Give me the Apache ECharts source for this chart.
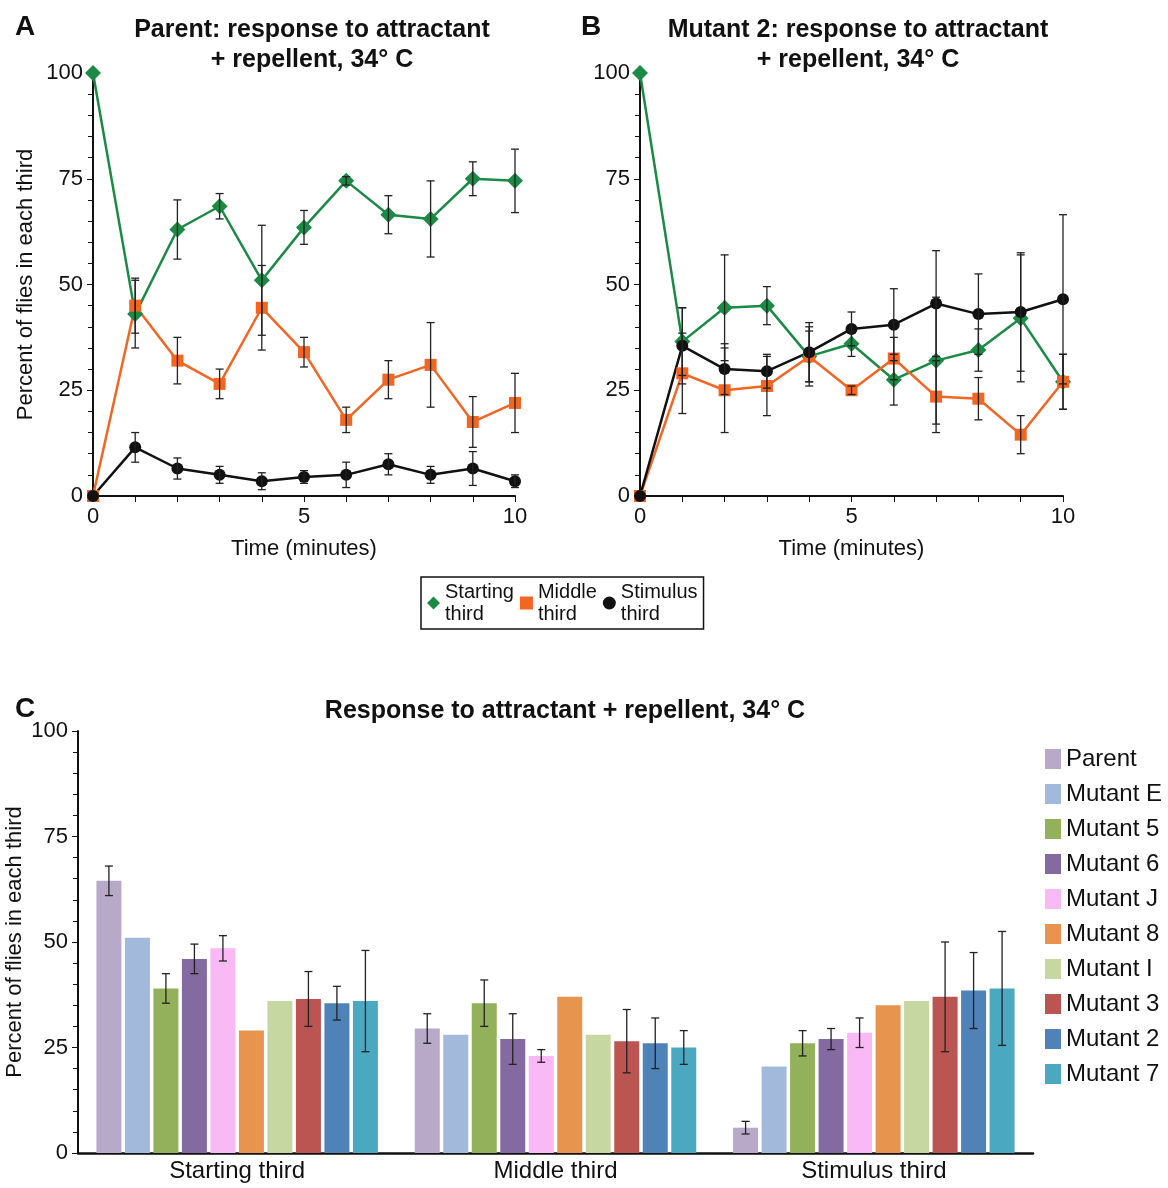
<!DOCTYPE html>
<html><head><meta charset="utf-8">
<script src="https://cdn.jsdelivr.net/npm/echarts@6/dist/echarts.min.js"></script>
<style>html,body{margin:0;background:#fff}#c{width:1168px;height:1188px}</style>
</head><body><div id="c"></div>
<script>
var F = "'Liberation Sans Narrow','Liberation Sans',Arial,sans-serif";
var minutes = [0,1,2,3,4,5,6,7,8,9,10];
// Panel A: parent
var aStart = [100,43,63,68.5,51,63.5,74.5,66.5,65.5,75,74.5];
var aStartErr = [0,8,7,3,13,4,1,4.5,9,4,7.5];
var aMid = [0,45,32,26.5,44.5,34,18,27.5,31,17.5,22];
var aMidErr = [0,6.5,5.5,3.5,10,3.5,3,4.5,10,6,7];
var aStim = [0,11.5,6.5,5,3.5,4.5,5,7.5,5,6.5,3.5];
var aStimErr = [0,3.5,2.5,2,2,1.5,3,2.5,2,4,1.5];
// Panel B: mutant 2
var bStart = [100,36.5,44.5,45,33,36,27.5,32,34.5,42,27];
var bStartErr = [0,8,12.5,4.5,7,3,6,15,5,15,6.5];
var bMid = [0,29,25,26,33,25,32.5,23.5,23,14.5,27];
var bMidErr = [0,9.5,10,7,6,1,5,8.5,5,4.5,6.5];
var bStim = [0,35.5,30,29.5,34,39.5,40.5,45.5,43,43.5,46.5];
var bStimErr = [0,9,6,4,7,4,8.5,12.5,9.5,14,20];
// Panel C
var thirds = ['Starting third','Middle third','Stimulus third'];
var strains = ['Parent','Mutant E','Mutant 5','Mutant 6','Mutant J','Mutant 8','Mutant I','Mutant 3','Mutant 2','Mutant 7'];
var strainColors = ['#b9a9c9','#a3b9dc','#93b05a','#836aa0','#f9b9f4','#e6944e','#c6d7a2','#bb5552','#4f83b8','#4aa8c1'];
var cVals = [[64.5,29.5,6],[51,28,20.5],[39,35.5,26],[46,27,27],[48.5,23,28.5],[29,37,35],[36,28,36],[36.5,26.5,37],[35.5,26,38.5],[36,25,39]];
var cErr = [[3.5,3.5,1.5],null,[3.5,5.5,3],[3.5,6,2.5],[3,1.5,3.5],null,null,[6.5,7.5,13],[4,6,9],[12,4,13.5]];

var GREEN = '#1a8a45', ORANGE = '#f26522', BLACK = '#111';

function errSeries(gi, vals, errs, offset) {
  return {
    type: 'custom', xAxisIndex: gi, yAxisIndex: gi, z: 5, silent: true,
    data: vals.map(function (v, i) { return [i, v, errs[i]]; }),
    renderItem: function (params, api) {
      var x = api.value(0), v = api.value(1), e = api.value(2);
      if (!e) return;
      var hi = api.coord([x, v + e]), lo = api.coord([x, v - e]);
      var cx = hi[0] + (offset || 0);
      var st = {stroke: '#222', lineWidth: 1.3};
      return {type: 'group', children: [
        {type: 'line', shape: {x1: cx, y1: hi[1], x2: cx, y2: lo[1]}, style: st},
        {type: 'line', shape: {x1: cx - 4, y1: hi[1], x2: cx + 4, y2: hi[1]}, style: st},
        {type: 'line', shape: {x1: cx - 4, y1: lo[1], x2: cx + 4, y2: lo[1]}, style: st}
      ]};
    }
  };
}
function lineSeries(gi, name, vals, color, symbol, size) {
  return {type: 'line', name: name, xAxisIndex: gi, yAxisIndex: gi, z: 3,
    data: vals.map(function (v, i) { return [minutes[i], v]; }),
    symbol: symbol, symbolSize: size, lineStyle: {color: color, width: 2.5},
    itemStyle: {color: color}};
}
function valX(gi) {
  return {type: 'value', gridIndex: gi, min: 0, max: 10, interval: 5,
    axisLine: {lineStyle: {color: '#111', width: 2}}, axisTick: {length: 6, lineStyle: {color: '#111'}},
    minorTick: {show: true, splitNumber: 5, length: 6, lineStyle: {color: '#111'}},
    splitLine: {show: false}, axisLabel: {fontFamily: F, fontSize: 22, color: '#111', margin: 10},
    name: 'Time (minutes)', nameLocation: 'middle', nameGap: 42,
    nameTextStyle: {fontFamily: F, fontSize: 22, color: '#111'}};
}
function valY(gi, name, gap) {
  return {type: 'value', gridIndex: gi, min: 0, max: 100, interval: 25,
    axisLine: {show: true, lineStyle: {color: '#111', width: 2}}, axisTick: {show: true, length: 6, lineStyle: {color: '#111'}},
    minorTick: {show: true, splitNumber: 5, length: 5, lineStyle: {color: '#111'}},
    splitLine: {show: false}, axisLabel: {fontFamily: F, fontSize: 22, color: '#111', margin: 10},
    name: name, nameLocation: 'middle', nameGap: gap, nameMoveOverlap: false,
    nameTextStyle: {fontFamily: F, fontSize: 22, color: '#111'}};
}

var series = [
  errSeries(0, aStart, aStartErr), errSeries(0, aMid, aMidErr), errSeries(0, aStim, aStimErr),
  lineSeries(0, 'Starting\nthird', aStart, GREEN, 'diamond', 16),
  lineSeries(0, 'Middle\nthird', aMid, ORANGE, 'rect', 12),
  lineSeries(0, 'Stimulus\nthird', aStim, BLACK, 'circle', 12),
  errSeries(1, bStart, bStartErr), errSeries(1, bMid, bMidErr), errSeries(1, bStim, bStimErr),
  lineSeries(1, 'Starting\nthird', bStart, GREEN, 'diamond', 16),
  lineSeries(1, 'Middle\nthird', bMid, ORANGE, 'rect', 12),
  lineSeries(1, 'Stimulus\nthird', bStim, BLACK, 'circle', 12)
];
var PITCH = 28.5;
strains.forEach(function (s, k) {
  series.push({type: 'bar', name: s, xAxisIndex: 2, yAxisIndex: 2, data: cVals[k],
    barWidth: 25, barGap: '14%', itemStyle: {color: strainColors[k]}});
});
strains.forEach(function (s, k) {
  if (cErr[k]) series.push(errSeries(2, cVals[k], cErr[k], (k - 4.5) * PITCH));
});

var chart = echarts.init(document.getElementById('c'));
chart.setOption({
  animation: false,
  textStyle: {fontFamily: F},
  title: [
    {text: 'Parent: response to attractant\n+ repellent, 34° C', left: 307, top: 10, textAlign: 'center',
      textStyle: {fontFamily: F, fontSize: 25, fontWeight: 'bold', color: '#111', lineHeight: 30}},
    {text: 'Mutant 2: response to attractant\n+ repellent, 34° C', left: 853, top: 10, textAlign: 'center',
      textStyle: {fontFamily: F, fontSize: 25, fontWeight: 'bold', color: '#111', lineHeight: 30}},
    {text: 'Response to attractant + repellent, 34° C', left: 560, top: 694, textAlign: 'center',
      textStyle: {fontFamily: F, fontSize: 25, fontWeight: 'bold', color: '#111'}},
    {text: 'A', left: 10, top: 8, textStyle: {fontFamily: F, fontSize: 28, fontWeight: 'bold', color: '#111'}},
    {text: 'B', left: 576, top: 8, textStyle: {fontFamily: F, fontSize: 28, fontWeight: 'bold', color: '#111'}},
    {text: 'C', left: 10, top: 690, textStyle: {fontFamily: F, fontSize: 28, fontWeight: 'bold', color: '#111'}}
  ],
  legend: [
    {data: [{name: 'Starting\nthird', icon: 'diamond'}, {name: 'Middle\nthird', icon: 'rect'}, {name: 'Stimulus\nthird', icon: 'circle'}],
      left: 421, top: 577, itemWidth: 13, itemHeight: 13, itemGap: 6, borderColor: '#111', borderWidth: 1.5, padding: [4, 6],
      textStyle: {fontFamily: F, fontSize: 20, color: '#111', lineHeight: 22}},
    {data: strains, orient: 'vertical', left: 1040, top: 742, itemWidth: 16, itemHeight: 20, itemGap: 11,
      icon: 'rect', textStyle: {fontFamily: F, fontSize: 24, color: '#111'}}
  ],
  grid: [
    {left: 93, right: 653, top: 73, bottom: 692, outerBoundsMode: 'none'},
    {left: 640, right: 105, top: 73, bottom: 692, outerBoundsMode: 'none'},
    {left: 78, right: 135, top: 731, bottom: 35, outerBoundsMode: 'none'}
  ],
  xAxis: [valX(0), valX(1),
    {type: 'category', gridIndex: 2, data: thirds, axisLine: {lineStyle: {color: '#111', width: 2.5}},
      axisTick: {show: false}, axisLabel: {fontFamily: F, fontSize: 24, color: '#111', margin: 6}}],
  yAxis: [valY(0, 'Percent of flies in each third', 56), valY(1, '', 52), valY(2, 'Percent of flies in each third', 52)],
  series: series
});
</script></body></html>
